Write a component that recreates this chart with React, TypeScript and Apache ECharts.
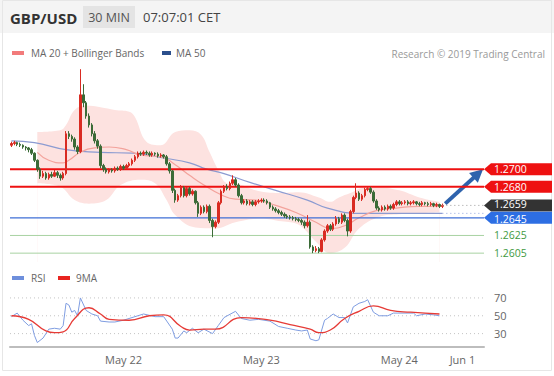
import React, { useEffect, useRef } from 'react';
import * as echarts from 'echarts';

const slotCount = 165;
const dateLabels: [number, string][] = [[39, 'May 22'], [87, 'May 23'], [135, 'May 24'], [157, 'Jun 1']];

// [open, close, low, high]
const candles: number[][] = [
  [1.2727,1.2729,1.2725,1.2731],[1.2729,1.2730,1.2727,1.2732],[1.2730,1.2728,1.2726,1.2731],[1.2728,1.2727,1.2725,1.2730],
  [1.2727,1.2725,1.2723,1.2728],[1.2725,1.2724,1.2721,1.2726],[1.2724,1.2722,1.2719,1.2725],[1.2722,1.2718,1.2716,1.2724],
  [1.2718,1.2710,1.2708,1.2719],[1.2710,1.2700,1.2697,1.2711],[1.2700,1.2692,1.2689,1.2702],[1.2692,1.2695,1.2690,1.2698],
  [1.2695,1.2690,1.2688,1.2697],[1.2690,1.2694,1.2688,1.2696],[1.2694,1.2692,1.2690,1.2697],[1.2692,1.2696,1.2691,1.2699],
  [1.2696,1.2693,1.2690,1.2698],[1.2693,1.2690,1.2687,1.2695],[1.2690,1.2695,1.2688,1.2697],[1.2695,1.2740,1.2693,1.2743],
  [1.2740,1.2737,1.2734,1.2743],[1.2737,1.2734,1.2731,1.2739],[1.2734,1.2725,1.2722,1.2736],[1.2725,1.2720,1.2717,1.2727],
  [1.2720,1.2784,1.2718,1.2813],[1.2784,1.2775,1.2770,1.2796],[1.2775,1.2760,1.2757,1.2777],[1.2760,1.2750,1.2747,1.2763],
  [1.2750,1.2740,1.2737,1.2752],[1.2740,1.2732,1.2729,1.2743],[1.2732,1.2726,1.2723,1.2734],[1.2726,1.2704,1.2701,1.2728],
  [1.2704,1.2700,1.2697,1.2706],[1.2700,1.2697,1.2695,1.2702],[1.2697,1.2699,1.2695,1.2701],[1.2699,1.2698,1.2696,1.2701],
  [1.2698,1.2701,1.2696,1.2703],[1.2701,1.2700,1.2698,1.2703],[1.2700,1.2703,1.2698,1.2705],[1.2703,1.2701,1.2699,1.2705],
  [1.2701,1.2704,1.2700,1.2706],[1.2704,1.2706,1.2702,1.2708],[1.2706,1.2710,1.2704,1.2712],[1.2710,1.2714,1.2708,1.2716],
  [1.2714,1.2718,1.2712,1.2720],[1.2718,1.2717,1.2715,1.2720],[1.2717,1.2719,1.2715,1.2721],[1.2719,1.2718,1.2716,1.2721],
  [1.2718,1.2716,1.2714,1.2720],[1.2716,1.2718,1.2714,1.2720],[1.2718,1.2717,1.2715,1.2719],[1.2717,1.2715,1.2713,1.2719],
  [1.2715,1.2716,1.2713,1.2718],[1.2716,1.2714,1.2712,1.2717],[1.2714,1.2706,1.2704,1.2716],[1.2706,1.2698,1.2695,1.2708],
  [1.2698,1.2676,1.2673,1.2699],[1.2676,1.2665,1.2662,1.2678],[1.2665,1.2670,1.2663,1.2672],[1.2670,1.2679,1.2668,1.2682],
  [1.2679,1.2670,1.2668,1.2681],[1.2670,1.2678,1.2668,1.2680],[1.2678,1.2672,1.2670,1.2680],[1.2672,1.2675,1.2670,1.2677],
  [1.2675,1.2662,1.2660,1.2676],[1.2662,1.2650,1.2646,1.2664],[1.2650,1.2657,1.2648,1.2659],[1.2657,1.2652,1.2650,1.2659],
  [1.2652,1.2658,1.2650,1.2660],[1.2658,1.2642,1.2639,1.2660],[1.2642,1.2635,1.2623,1.2644],[1.2635,1.2640,1.2633,1.2642],
  [1.2640,1.2662,1.2638,1.2664],[1.2662,1.2675,1.2660,1.2677],[1.2675,1.2680,1.2673,1.2682],[1.2680,1.2678,1.2676,1.2683],
  [1.2678,1.2684,1.2676,1.2686],[1.2684,1.2688,1.2682,1.2693],[1.2688,1.2682,1.2680,1.2690],[1.2682,1.2670,1.2668,1.2684],
  [1.2670,1.2662,1.2660,1.2672],[1.2662,1.2664,1.2660,1.2666],[1.2664,1.2661,1.2659,1.2666],[1.2661,1.2663,1.2659,1.2665],
  [1.2663,1.2660,1.2658,1.2665],[1.2660,1.2663,1.2658,1.2665],[1.2663,1.2664,1.2661,1.2666],[1.2664,1.2665,1.2662,1.2667],
  [1.2665,1.2664,1.2662,1.2667],[1.2664,1.2662,1.2660,1.2666],[1.2662,1.2657,1.2655,1.2663],[1.2657,1.2655,1.2653,1.2659],
  [1.2655,1.2653,1.2651,1.2657],[1.2653,1.2651,1.2649,1.2655],[1.2651,1.2649,1.2647,1.2653],[1.2649,1.2647,1.2645,1.2651],
  [1.2647,1.2646,1.2644,1.2649],[1.2646,1.2645,1.2643,1.2648],[1.2645,1.2644,1.2642,1.2647],[1.2644,1.2643,1.2641,1.2646],
  [1.2643,1.2642,1.2640,1.2645],[1.2642,1.2640,1.2637,1.2644],[1.2640,1.2636,1.2633,1.2642],[1.2636,1.2640,1.2634,1.2648],
  [1.2640,1.2612,1.2610,1.2642],[1.2612,1.2608,1.2605,1.2614],[1.2608,1.2610,1.2606,1.2613],[1.2610,1.2607,1.2605,1.2612],
  [1.2607,1.2620,1.2606,1.2622],[1.2620,1.2630,1.2618,1.2632],[1.2630,1.2636,1.2628,1.2638],[1.2636,1.2632,1.2630,1.2638],
  [1.2632,1.2638,1.2630,1.2640],[1.2638,1.2644,1.2636,1.2647],[1.2644,1.2640,1.2638,1.2646],[1.2640,1.2648,1.2638,1.2650],
  [1.2648,1.2642,1.2640,1.2650],[1.2642,1.2630,1.2624,1.2644],[1.2630,1.2652,1.2628,1.2654],[1.2652,1.2668,1.2650,1.2670],
  [1.2668,1.2673,1.2666,1.2684],[1.2673,1.2666,1.2664,1.2675],[1.2666,1.2670,1.2664,1.2672],[1.2670,1.2677,1.2668,1.2679],
  [1.2677,1.2678,1.2675,1.2680],[1.2678,1.2674,1.2672,1.2680],[1.2674,1.2664,1.2662,1.2676],[1.2664,1.2656,1.2654,1.2666],
  [1.2656,1.2654,1.2652,1.2658],[1.2654,1.2657,1.2652,1.2659],[1.2657,1.2655,1.2653,1.2659],[1.2655,1.2658,1.2653,1.2660],
  [1.2658,1.2656,1.2654,1.2660],[1.2656,1.2660,1.2654,1.2662],[1.2660,1.2663,1.2658,1.2665],[1.2663,1.2661,1.2659,1.2665],
  [1.2661,1.2662,1.2659,1.2664],[1.2662,1.2663,1.2660,1.2665],[1.2663,1.2661,1.2659,1.2665],[1.2661,1.2662,1.2659,1.2664],
  [1.2662,1.2663,1.2660,1.2665],[1.2663,1.2661,1.2659,1.2664],[1.2661,1.2660,1.2658,1.2663],[1.2660,1.2662,1.2658,1.2664],
  [1.2662,1.2661,1.2659,1.2663],[1.2661,1.2660,1.2658,1.2663],[1.2660,1.2661,1.2658,1.2663],[1.2661,1.2659,1.2657,1.2662],
  [1.2659,1.2660,1.2657,1.2662],[1.2660,1.2658,1.2656,1.2661],[1.2658,1.2659,1.2656,1.2661],
];

// [bar index, price]
const upperBand: number[][] = [
  [9,1.2742],[17,1.2744],[19,1.2750],[22,1.2767],[26,1.2772],[31,1.2770],[36,1.2767],[41,1.2765],[43,1.2759],
  [47,1.2731],[52,1.2727],[57,1.2742],[62,1.2744],[66,1.2739],[69,1.2719],[72,1.2699],[75,1.2684],[80,1.2682],
  [85,1.2676],[92,1.2673],[100,1.2674],[107,1.2668],[111,1.2663],[114,1.2668],[118,1.2673],[123,1.2679],
  [128,1.2679],[135,1.2676],[142,1.2668],[149,1.2663],
];
const lowerBand: number[][] = [
  [9,1.2684],[17,1.2680],[22,1.2665],[27,1.2661],[33,1.2665],[38,1.2682],[45,1.2688],[50,1.2684],[54,1.2665],
  [57,1.2648],[64,1.2634],[71,1.2633],[78,1.2640],[87,1.2644],[94,1.2641],[100,1.2637],[106,1.2618],[111,1.2605],
  [116,1.2611],[121,1.2633],[128,1.2646],[135,1.2649],[149,1.2651],
];
const ma20: number[][] = [
  [9,1.2719],[13,1.2710],[18,1.2707],[20,1.2710],[24,1.2719],[29,1.2724],[34,1.2725],[40,1.2722],[45,1.2716],
  [52,1.2714],[57,1.2705],[62,1.2693],[67,1.2682],[73,1.2671],[78,1.2666],[85,1.2665],[92,1.2659],[99,1.2651],
  [106,1.2640],[111,1.2633],[116,1.2636],[121,1.2645],[127,1.2653],[134,1.2656],[142,1.2658],[150,1.2658],
];
const ma50: number[][] = [
  [0,1.2732],[8,1.2730],[19,1.2722],[31,1.2719],[42,1.2718],[54,1.2712],[62,1.2707],[68,1.2700],[74,1.2695],
  [83,1.2685],[92,1.2676],[103,1.2665],[110,1.2656],[121,1.2650],[135,1.2650],[150,1.2650],
];

const lastClose = 1.2659;
const lastMa50 = 1.2650;
const arrowFrom = [151, 1.2661];
const arrowTo = [162.5, 1.2695];

const levelValues = [1.2700, 1.2680, 1.2659, 1.2645, 1.2625, 1.2605];
const levelFill = ['#ee1111', '#ee1111', '#333333', '#2d6ee3', '', ''];
const levelText = ['#ffffff', '#ffffff', '#ffffff', '#ffffff', '#3f9a3f', '#3f9a3f'];
const levelTextNudge = [0, 0, -1, 1, 0, 0];
// full-width horizontal lines: index into levelValues
const fullLines = [0, 1, 3, 4, 5];
const fullLineStyle = [
  { color: '#ee1111', width: 2 },
  { color: '#ee1111', width: 2 },
  { color: '#3f6fd6', width: 1.3 },
  { color: '#a9d3a2', width: 1 },
  { color: '#a9d3a2', width: 1 },
];

const rsi: number[][] = [
  [0,49],[2,53],[4,45],[6,39],[7,41],[8,28],[9,20],[11,25],[13,35],[15,36],[17,35],[18,39],[19,64],[20,62],
  [21,54],[22,56],[23,50],[24,70],[26,56],[28,52],[30,50],[31,44],[34,43],[36,43],[39,45],[43,49],[46,52],
  [50,49],[53,49],[56,35],[57,25],[58,25],[60,33],[61,31],[63,36],[65,31],[67,35],[70,30],[72,39],[74,48],
  [78,55],[80,47],[83,45],[86,46],[90,44],[93,38],[96,36],[99,34],[101,33],[103,34],[104,24],[106,22],[107,23],
  [109,45],[110,47],[112,52],[114,48],[116,48],[117,42],[119,60],[121,64],[123,66],[124,68],[126,54],[128,50],
  [131,50],[133,53],[137,53],[140,53],[141,50],[144,52],[147,51],[149,50],
];
const rsiMa: number[][] = [
  [0,50],[6,46],[12,33],[15,31],[18,32],[22,47],[27,59],[31,52],[34,46],[41,45],[48,50],[53,51],[59,38],[62,34],
  [67,35],[71,35],[80,48],[90,45],[97,40],[104,35],[107,31],[111,34],[116,47],[121,55],[126,61],[132,56],
  [139,54],[149,52],
];
const rsiLevels = [70, 50, 30];

const FONT = '"Open Sans", "DejaVu Sans", sans-serif';

export default function App() {
  const ref = useRef<HTMLDivElement>(null);
  useEffect(() => {
    if (!ref.current) return;
    const chart = echarts.init(ref.current, undefined, { renderer: 'svg' });
    const categories = Array.from({ length: slotCount }, (_, i) => {
      const f = dateLabels.find((d) => d[0] === i);
      return f ? f[1] : '';
    });
    const xMin = -0.5;
    const xMax = slotCount - 0.5;
    const levelSeries = fullLines.map((li, k) => ({
      type: 'line', xAxisIndex: 1, yAxisIndex: 0, z: 5, silent: true, symbol: 'none',
      data: [[xMin, levelValues[li]], [xMax, levelValues[li]]],
      lineStyle: { ...fullLineStyle[k], type: 'solid' },
    }));
    const rsiLevelSeries = rsiLevels.map((v) => ({
      type: 'line', xAxisIndex: 3, yAxisIndex: 1, z: 2, silent: true, symbol: 'none',
      data: [[xMin, v], [xMax, v]],
      lineStyle: { color: '#c4c4c4', width: 1, type: [1, 3] },
    }));
    const option: any = {
      animation: false,
      backgroundColor: '#ffffff',
      textStyle: { fontFamily: FONT },
      grid: [
        { left: 10, top: 63, width: 474, height: 199 },
        { left: 10, top: 289, width: 474, height: 58 },
      ],
      xAxis: [
        { type: 'category', gridIndex: 0, data: categories, show: false },
        { type: 'value', gridIndex: 0, min: xMin, max: xMax, show: false },
        {
          type: 'category', gridIndex: 1, data: categories,
          axisLine: { lineStyle: { color: '#bdbdbd', width: 2 } },
          axisTick: { show: false },
          axisLabel: { interval: 0, color: '#666', fontSize: 11, fontFamily: FONT, margin: 7 },
          splitLine: { show: false },
        },
        { type: 'value', gridIndex: 1, min: xMin, max: xMax, show: false },
      ],
      yAxis: [
        { type: 'value', gridIndex: 0, min: 1.2595, max: 1.2820, show: false, splitLine: { show: false } },
        {
          type: 'value', gridIndex: 1, min: 15, max: 80, interval: 5, position: 'right',
          axisLine: { show: false }, axisTick: { show: false }, splitLine: { show: false },
          axisLabel: {
            color: '#666', fontSize: 11, fontFamily: FONT, margin: 10,
            formatter: (v: number) => (rsiLevels.indexOf(v) >= 0 ? String(v) : ''),
          },
        },
      ],
      graphic: [
        { type: 'rect', silent: true, shape: { x: 0, y: 0, width: 554, height: 33 }, style: { fill: '#f4f4f4' } },
        { type: 'rect', silent: true, shape: { x: 2.5, y: 0.5, width: 549, height: 370 }, style: { fill: 'none', stroke: '#e6e6e6', lineWidth: 1 } },
        { type: 'rect', silent: true, shape: { x: 83, y: 6, width: 52, height: 22 }, style: { fill: '#e4e4e4' } },
        { type: 'text', silent: true, x: 10, y: 18, style: { text: 'GBP/USD', fontSize: 15, fontWeight: 'bold', fontFamily: FONT, fill: '#333', verticalAlign: 'middle' } },
        { type: 'text', silent: true, x: 109, y: 17, style: { text: '30 MIN', fontSize: 12.5, fontFamily: FONT, fill: '#555', align: 'center', verticalAlign: 'middle' } },
        { type: 'text', silent: true, x: 143, y: 17, style: { text: '07:07:01 CET', fontSize: 13, fontFamily: FONT, fill: '#444', verticalAlign: 'middle' } },
        { type: 'rect', silent: true, shape: { x: 12, y: 51, width: 12, height: 4 }, style: { fill: '#f27b7b' } },
        { type: 'text', silent: true, x: 31, y: 53, style: { text: 'MA 20 + Bollinger Bands', fontSize: 10, fontFamily: FONT, fill: '#666', verticalAlign: 'middle' } },
        { type: 'rect', silent: true, shape: { x: 162, y: 51, width: 9, height: 4 }, style: { fill: '#2b4f8c' } },
        { type: 'text', silent: true, x: 176, y: 53, style: { text: 'MA 50', fontSize: 10, fontFamily: FONT, fill: '#666', verticalAlign: 'middle' } },
        { type: 'text', silent: true, x: 545, y: 54, style: { text: 'Research © 2019 Trading Central', fontSize: 10, fontFamily: FONT, fill: '#999', align: 'right', verticalAlign: 'middle' } },
        { type: 'rect', silent: true, shape: { x: 12, y: 276, width: 12, height: 4 }, style: { fill: '#6e8fdc' } },
        { type: 'text', silent: true, x: 31, y: 278, style: { text: 'RSI', fontSize: 10, fontFamily: FONT, fill: '#666', verticalAlign: 'middle' } },
        { type: 'rect', silent: true, shape: { x: 58, y: 276, width: 12, height: 4 }, style: { fill: '#e82420' } },
        { type: 'text', silent: true, x: 76, y: 278, style: { text: '9MA', fontSize: 10, fontFamily: FONT, fill: '#666', verticalAlign: 'middle' } },
      ],
      series: [
        {
          type: 'line', xAxisIndex: 1, yAxisIndex: 0, z: 0, data: upperBand, smooth: 0.4, symbol: 'none', silent: true,
          lineStyle: { opacity: 0 }, areaStyle: { color: '#fde2e0', opacity: 1, origin: 'start' },
        },
        {
          type: 'line', xAxisIndex: 1, yAxisIndex: 0, z: 1, data: lowerBand, smooth: 0.4, symbol: 'none', silent: true,
          lineStyle: { opacity: 0 }, areaStyle: { color: '#ffffff', opacity: 1, origin: 'start' },
        },
        {
          type: 'line', xAxisIndex: 1, yAxisIndex: 0, z: 3, data: ma50, smooth: true, symbol: 'none', silent: true,
          lineStyle: { color: '#8c9bd1', width: 1.2 },
        },
        {
          type: 'line', xAxisIndex: 1, yAxisIndex: 0, z: 3, data: ma20, smooth: true, symbol: 'none', silent: true,
          lineStyle: { color: '#f3a39c', width: 1.2 },
        },
        ...levelSeries,
        {
          type: 'candlestick', xAxisIndex: 0, yAxisIndex: 0, z: 6, data: candles, barWidth: '70%', silent: true,
          itemStyle: { color: '#d92b22', color0: '#3b6b37', borderColor: '#d92b22', borderColor0: '#3b6b37', borderWidth: 1 },
        },
        {
          type: 'line', xAxisIndex: 1, yAxisIndex: 0, z: 7, silent: true, symbol: 'none',
          data: [[150, lastClose], [xMax, lastClose]],
          lineStyle: { color: '#9a9a9a', width: 1, type: [1, 3] },
        },
        {
          type: 'line', xAxisIndex: 1, yAxisIndex: 0, z: 7, silent: true, symbol: 'none',
          data: [[150, lastMa50], [xMax, lastMa50]],
          lineStyle: { color: '#8ea2dc', width: 1, type: [1, 3] },
        },
        {
          type: 'line', xAxisIndex: 1, yAxisIndex: 0, z: 8, silent: true, symbol: 'none',
          data: [arrowFrom],
          lineStyle: { opacity: 0 },
          markLine: {
            silent: true, symbol: ['none', 'triangle'], symbolSize: 13, label: { show: false },
            lineStyle: { color: '#2e63ad', width: 4, type: 'solid' },
            data: [[{ coord: arrowFrom }, { coord: arrowTo }]],
          },
        },
        {
          type: 'custom', xAxisIndex: 0, yAxisIndex: 0, z: 9, silent: true, clip: false,
          data: levelValues.map((v) => [0, v]),
          encode: { x: 0, y: 1 },
          renderItem: (params: any, api: any) => {
            const idx = params.dataIndex;
            const val = api.value(1) as number;
            const y = api.coord([0, val])[1];
            const cs = params.coordSys;
            const x0 = cs.x + cs.width;
            const h = 6;
            const children: any[] = [];
            if (levelFill[idx]) {
              children.push({
                type: 'polygon',
                shape: { points: [[x0, y], [x0 + 7, y - h], [x0 + 68, y - h], [x0 + 68, y + h], [x0 + 7, y + h]] },
                style: { fill: levelFill[idx] },
              });
            }
            children.push({
              type: 'text', x: x0 + 10, y: y + levelTextNudge[idx],
              style: { text: val.toFixed(4), fill: levelText[idx], fontSize: 10.5, lineHeight: 11, fontFamily: FONT, verticalAlign: 'middle', align: 'left' },
            });
            return { type: 'group', children };
          },
        },
        ...rsiLevelSeries,
        {
          type: 'line', xAxisIndex: 3, yAxisIndex: 1, z: 3, data: rsi, symbol: 'none', silent: true,
          lineStyle: { color: '#7f9de1', width: 1 },
        },
        {
          type: 'line', xAxisIndex: 3, yAxisIndex: 1, z: 4, data: rsiMa, smooth: true, symbol: 'none', silent: true,
          lineStyle: { color: '#e63b36', width: 1.3 },
        },
      ],
    };
    chart.setOption(option);
    return () => chart.dispose();
  }, []);
  return <div ref={ref} style={{ position: 'absolute', left: 0, top: 0, width: 554, height: 376 }} />;
}
